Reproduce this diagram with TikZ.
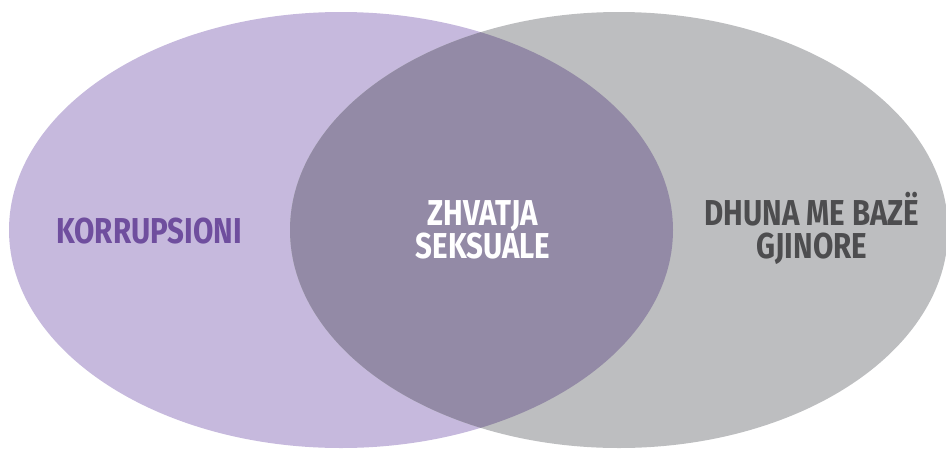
\documentclass[tikz,border=0pt]{standalone}
\usepackage{fontspec}
\setmainfont{Fira Sans}[FakeStretch=0.82]
\usepackage{tikz}
\usetikzlibrary{positioning}

\definecolor{lavender}{HTML}{C6B9DD}
\definecolor{greyset}{HTML}{BDBEC0}
\definecolor{overlap}{HTML}{938AA6}
\definecolor{purpletext}{HTML}{6F4E9E}
\definecolor{greytext}{HTML}{4D4D4F}

\begin{document}
\begin{tikzpicture}[
    % Define node styles
    x = 1pt, y = -1pt,
    lbl/.style={font=\bfseries\fontsize{36}{33}\selectfont, align=center, inner sep=0pt, anchor=base},
]
\useasboundingbox (0,0) rectangle (946,448);

% Sets
\fill[lavender] (341,230) ellipse [x radius=332, y radius=218];
\fill[greyset] (619,230) ellipse [x radius=329, y radius=218];
\begin{scope}
    \clip (341,230) ellipse [x radius=332, y radius=218];
    \fill[overlap] (619,230) ellipse [x radius=329, y radius=218];
\end{scope}

% Labels
\node[lbl, text=purpletext] (korr) at (149,243) {KORRUPSIONI};
\node[lbl, text=white] (zhvat) at (483,258) {ZHVATJA\\SEKSUALE};
\node[lbl, text=greytext] (dhuna) at (812,258) {DHUNA ME BAZË\\GJINORE};

\end{tikzpicture}
\end{document}
